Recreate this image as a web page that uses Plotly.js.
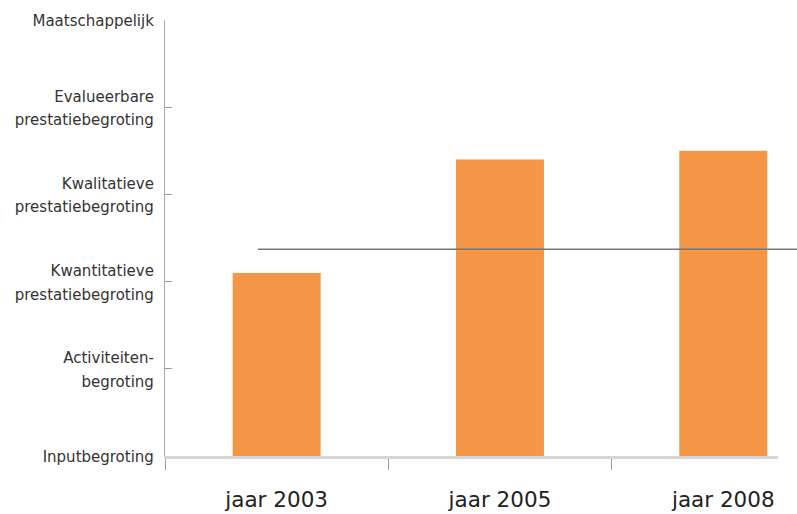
<!DOCTYPE html>
<html>
<head>
<meta charset="utf-8">
<script src="https://cdn.plot.ly/plotly-3.0.1.min.js"></script>
<style>
  html, body { margin: 0; padding: 0; overflow: hidden; background: #ffffff; }
  #chart { width: 797px; height: 514px; }
</style>
</head>
<body>
<div id="chart"></div>
<script>
// ---- data ----
const categories = ['jaar 2003', 'jaar 2005', 'jaar 2008'];
const levels = [2.10, 3.40, 3.50];
const levelTickValues = [0, 1, 2, 3, 4, 5];
const levelTickLines = [
  ['Inputbegroting'],
  ['Activiteiten-', 'begroting'],
  ['Kwantitatieve', 'prestatiebegroting'],
  ['Kwalitatieve', 'prestatiebegroting'],
  ['Evalueerbare', 'prestatiebegroting'],
  ['Maatschappelijk']
];
const referenceLevel = 2.37;

// ---- build ----
const labelFontPx = 15;
const levelTickText = levelTickLines.map(lines =>
  lines.map(l => '<span style="font-size:' + labelFontPx + 'px">' + l + '</span>').join('<br>')
);

const trace = {
  type: 'bar',
  x: categories,
  y: levels,
  width: 0.394,
  marker: { color: '#F59646', line: { width: 0 } },
  hoverinfo: 'x+y'
};

const layout = {
  width: 797,
  height: 514,
  margin: { l: 165, r: 19, t: 19.5, b: 57.5, pad: 0 },
  paper_bgcolor: '#ffffff',
  plot_bgcolor: '#ffffff',
  showlegend: false,
  font: { family: '"DejaVu Sans", sans-serif', color: '#333333' },
  xaxis: {
    type: 'category',
    range: [-0.5, 2.245],
    tickson: 'boundaries',
    ticks: 'outside',
    ticklen: 11,
    tickwidth: 1,
    tickcolor: '#9a9a9a',
    showline: true,
    linecolor: '#d6d6d6',
    linewidth: 2.5,
    showgrid: false,
    zeroline: false,
    ticklabelstandoff: 23,
    tickfont: { size: 21.5, color: '#222222', family: '"DejaVu Sans", sans-serif' }
  },
  yaxis: {
    range: [0, 5],
    tickmode: 'array',
    tickvals: levelTickValues,
    ticktext: levelTickText,
    ticks: 'inside',
    ticklen: 7,
    tickwidth: 1,
    tickcolor: '#9a9a9a',
    showline: true,
    linecolor: '#aaaaaa',
    linewidth: 1.5,
    showgrid: false,
    zeroline: false,
    ticklabelstandoff: 6,
    tickfont: { size: 18, color: '#333333', family: '"DejaVu Sans", sans-serif' }
  },
  shapes: [{
    type: 'line',
    xref: 'paper',
    yref: 'y',
    x0: 0.1517,
    x1: 1.04,
    y0: referenceLevel,
    y1: referenceLevel,
    line: { color: '#777777', width: 1.5 }
  }]
};

Plotly.newPlot('chart', [trace], layout, { displayModeBar: false, staticPlot: true });
</script>
</body>
</html>
